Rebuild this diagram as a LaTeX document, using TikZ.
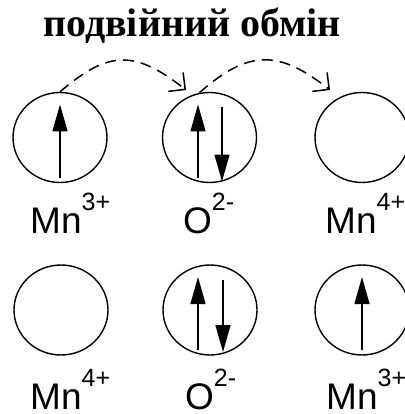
\documentclass[tikz,border=0pt]{standalone}
\usepackage{fontspec}
\setmainfont{Liberation Serif}
\setsansfont{Liberation Sans}
\usetikzlibrary{arrows.meta,shapes.geometric}
\newcommand{\ionlab}[2]{#1\raisebox{23pt}{\fontsize{25}{25}\selectfont #2}}

\begin{document}
\begin{tikzpicture}[font=\sffamily,x=1pt,y=-1pt,
  orb/.style={draw,ellipse,minimum width=94pt,minimum height=90pt,inner sep=0pt,line width=1.4pt},
  spin/.style={line width=1.4pt,-{Triangle[length=27pt,width=15pt]}},
  hop/.style={line width=1.5pt,dash pattern=on 11pt off 7pt,-{Straight Barb[angle=90:17pt]}},
  ion/.style={font=\sffamily\fontsize{37}{37}\selectfont,inner sep=0pt,text depth=0pt,anchor=base west}]
\useasboundingbox (0,0) rectangle (404,414);
\node[font=\rmfamily\bfseries\fontsize{40}{40}\selectfont,anchor=base] (title) at (192,37) {подвійний обмін};
% orbitals
\foreach \n/\x/\y in {m1/60/137.5,o1/209.5/137.5,m2/362/137.5,m3/61/310,o2/210/310,m4/362/310}
  \node[orb] (\n) at (\x,\y) {};
\foreach \x/\y/\el/\ch/\nm in {30/233/Mn/3+/l1,183/233/O/2-/l2,325/233/Mn/4+/l3,30/409/Mn/4+/l4,185/409/O/2-/l5,326/409/Mn/3+/l6}
  \node[ion] (\nm) at (\x,\y) {\ionlab{\el}{\ch}};
% spins
\draw[spin] ([shift={(0,40)}]m1.center) -- ++(0,-73);
\draw[spin] ([shift={(-11.5,40)}]o1.center) -- ++(0,-73);
\draw[spin] ([shift={(12.5,-30)}]o1.center) -- ++(0,74);
\draw[spin] ([shift={(-12,40)}]o2.center) -- ++(0,-73);
\draw[spin] ([shift={(13,-30)}]o2.center) -- ++(0,72);
\draw[spin] ([shift={(0,40)}]m4.center) -- ++(0,-73);
% electron hops
\coordinate (t1) at (186,90);
\coordinate (t2) at (330,90);
\draw[hop] (m1.north) .. controls +(49,-42) and +(-51,-40) .. (t1);
\draw[hop] (o1.103) .. controls +(50,-44) and +(-51,-40) .. (t2);
\end{tikzpicture}
\end{document}
